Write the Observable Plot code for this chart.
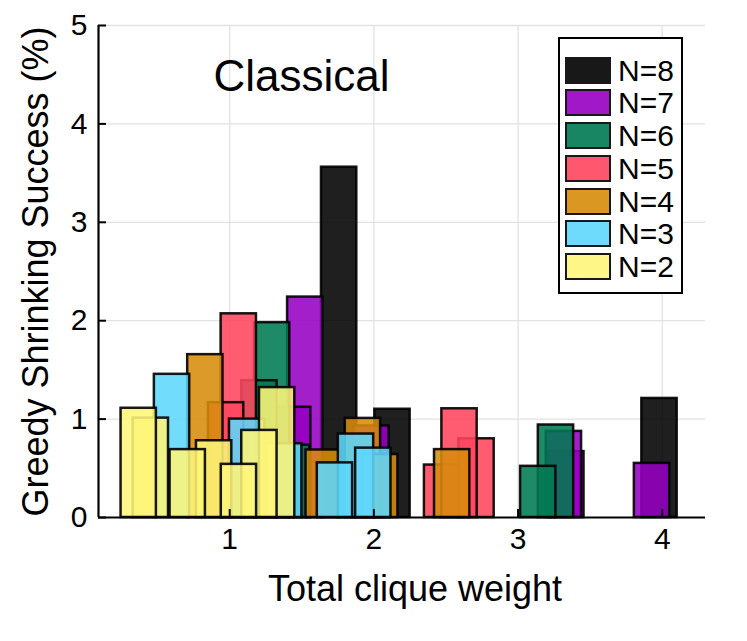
<!DOCTYPE html>
<html><head><meta charset="utf-8">
<script src="https://cdn.jsdelivr.net/npm/d3@7"></script>
<script src="https://cdn.jsdelivr.net/npm/@observablehq/plot@0.6"></script>
<style>
body{margin:0;background:#fff;font-family:"Liberation Sans",Arial,Helvetica,sans-serif;}
#wrap{position:relative;width:747px;height:641px;overflow:hidden;}
#legend{position:absolute;left:558px;top:37px;width:125px;height:257px;border:2.5px solid #000;background:#fff;box-sizing:border-box;}
.item{position:absolute;left:5px;height:27px;display:flex;align-items:center;}
.sw{width:46px;height:27px;box-sizing:border-box;border:2.5px solid #000;}
.lab{margin-left:7px;font-size:30px;line-height:27px;color:#000;}
</style></head>
<body><div id="wrap"></div>
<script>
// ---- data ----
const series = ["N=8","N=7","N=6","N=5","N=4","N=3","N=2"];
const colors = ["#000000","#9600c1","#007a52","#ff465f","#d78c0a","#5fd7fc","#fef679"];
const xTicks = [1,2,3,4];
const yTicks = [0,1,2,3,4,5];
const xN8 = [1.759, 2.129, 3.981];
const yN8 = [3.56, 1.10, 1.21];
const xN7 = [1.524, 1.440, 1.983, 3.335, 3.318, 3.929];
const yN7 = [2.24, 1.12, 0.93, 0.67, 0.875, 0.55];
const xN6 = [1.294, 1.206, 1.433, 3.263, 3.140];
const yN6 = [1.98, 1.39, 0.735, 0.94, 0.52];
const xN5 = [1.063, 0.975, 2.712, 2.473, 2.594];
const yN5 = [2.07, 1.167, 0.80, 0.533, 1.105];
const xN4 = [0.831, 1.652, 1.924, 2.044, 2.543];
const yN4 = [1.655, 0.686, 1.007, 0.64, 0.69];
const xN3 = [0.600, 1.121, 1.378, 1.876, 1.730, 1.996];
const yN3 = [1.455, 1.0, 0.75, 0.848, 0.555, 0.705];
const xN2 = [0.453, 0.369, 1.329, 1.206, 0.892, 0.709, 1.064];
const yN2 = [1.01, 1.11, 1.32, 0.885, 0.78, 0.69, 0.54];
const title = "Classical";
const xLabel = "Total clique weight";
const yLabel = "Greedy Shrinking Success (%)";

// ---- build ----
const xs = [xN8,xN7,xN6,xN5,xN4,xN3,xN2];
const ys = [yN8,yN7,yN6,yN5,yN4,yN3,yN2];
const rows = [];
series.forEach((s,i)=>xs[i].forEach((x,j)=>rows.push({series:s, x, y:ys[i][j]})));

const W = 747, H = 641, ML = 98, MR = 42, MT = 25, MB = 124;
const FW = W - ML - MR, FH = H - MT - MB;
const HALF = 0.1225;
const xDomain = [0.09, 4.3];
const font = '"Liberation Sans",Arial,Helvetica,sans-serif';
const fmt = d3.format("d");

const plot = Plot.plot({
  width: W, height: H, marginLeft: ML, marginRight: MR, marginTop: MT, marginBottom: MB,
  style: {fontFamily: font, fontSize: "28px", color: "#000", background: "transparent"},
  x: {domain: xDomain},
  y: {domain: [0,5]},
  color: {domain: series, range: colors},
  marks: [
    Plot.gridX(xTicks, {stroke: "#e2e2e2", strokeOpacity: 1, strokeWidth: 1.3}),
    Plot.gridY(yTicks.filter(d => d > 0), {stroke: "#e2e2e2", strokeOpacity: 1, strokeWidth: 1.3}),
    Plot.rect(rows, {x1: d => d.x - HALF, x2: d => d.x + HALF, y1: 0, y2: "y",
      fill: "series", fillOpacity: 0.88, stroke: "#000", strokeOpacity: 0.9, strokeWidth: 2.5}),
    Plot.axisX(xTicks, {tickSize: 0, tickPadding: 10, fontSize: 30, tickFormat: fmt, label: null}),
    Plot.axisY(yTicks, {tickSize: 0, tickPadding: 11, fontSize: 30, tickFormat: fmt, label: null}),
    Plot.tickX(xTicks, {x: d => d, insetTop: FH - 8, stroke: "#000", strokeWidth: 2}),
    Plot.tickY(yTicks, {y: d => d, insetRight: FW - 8, stroke: "#000", strokeWidth: 2}),
    Plot.ruleY([0], {stroke: "#000", strokeWidth: 2.2}),
    Plot.ruleX([xDomain[0]], {stroke: "#000", strokeWidth: 2.2}),
    Plot.text([title], {frameAnchor: "top-left", dx: 115, dy: 65, lineAnchor: "bottom", textAnchor: "start", fontSize: 44, fill: "#000"}),
    Plot.text([xLabel], {frameAnchor: "bottom", dx: 13, dy: 83, lineAnchor: "bottom", textAnchor: "middle", fontSize: 36, fill: "#000"}),
    Plot.text([yLabel], {frameAnchor: "left", dx: -51, rotate: -90, lineAnchor: "bottom", textAnchor: "middle", fontSize: 36, fill: "#000"})
  ]
});
const wrap = document.getElementById("wrap");
wrap.appendChild(plot);

// legend
const leg = document.createElement("div");
leg.id = "legend";
series.forEach((s,i)=>{
  const it = document.createElement("div");
  it.className = "item";
  it.style.top = (17.7 + i*32.7) + "px";
  const sw = document.createElement("div");
  sw.className = "sw";
  sw.style.background = colors[i];
  sw.style.opacity = 0.9;
  const lb = document.createElement("span");
  lb.className = "lab";
  lb.textContent = s;
  it.appendChild(sw); it.appendChild(lb);
  leg.appendChild(it);
});
wrap.appendChild(leg);
</script>
</body></html>
